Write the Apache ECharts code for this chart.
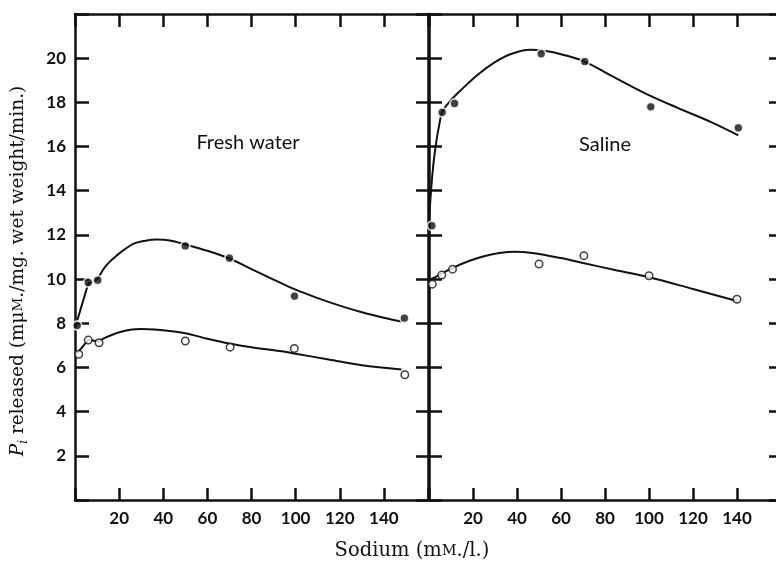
<!DOCTYPE html>
<html>
<head>
<meta charset="utf-8">
<script src="https://cdn.jsdelivr.net/npm/echarts@6/dist/echarts.min.js"></script>
<style>
html,body{margin:0;padding:0;background:#fff;}
#chart{width:776px;height:562px;}
</style>
</head>
<body>
<div id="chart"></div>
<script>
// ---- data ----
const xTickLabels = [20, 40, 60, 80, 100, 120, 140];
const yTickLabels = [2, 4, 6, 8, 10, 12, 14, 16, 18, 20];

// Fresh water
const freshFilledPoints = [[1,7.9],[6,9.85],[10.3,9.95],[50,11.5],[70,10.95],[99.5,9.23],[149.3,8.23]];
const freshOpenPoints = [[1.7,6.6],[6,7.24],[10.9,7.12],[50,7.2],[70.3,6.92],[99.4,6.86],[149.5,5.67]];
const freshFilledStart = [[0.5,7.95],[6,9.8],[10.3,10.0]];
const freshFilledCurve = [[10.3,10.0],[14,10.6],[18.8,11.06],[26.4,11.59],[32,11.74],[37,11.79],[43,11.75],[50,11.57],[60,11.28],[70,10.93],[80,10.45],[90,9.98],[100,9.52],[110,9.14],[120,8.8],[130,8.5],[140,8.25],[148,8.08]];
const freshOpenStart = [[0.8,6.62],[6,7.25],[10.9,7.18]];
const freshOpenCurve = [[10.9,7.18],[14,7.36],[19,7.56],[25,7.71],[30,7.74],[36,7.72],[42,7.66],[50,7.55],[60,7.3],[70,7.08],[80,6.91],[92.8,6.74],[100,6.62],[115,6.36],[130,6.1],[148,5.91]];

// Saline
const salineFilledPoints = [[1.3,12.42],[6,17.55],[11.6,17.95],[51,20.2],[70.8,19.85],[100.8,17.8],[140.6,16.85]];
const salineOpenPoints = [[1.5,9.77],[5.8,10.18],[10.7,10.45],[50,10.68],[70.4,11.06],[100,10.15],[140,9.09]];
const salineFilledCurve = [[0,12.6],[1,14.1],[2,15.2],[3,16],[4.5,16.9],[6.2,17.6],[10,18.1],[15,18.6],[22,19.24],[30,19.82],[37,20.18],[46,20.38],[53,20.32],[60,20.18],[70,19.88],[83,19.2],[98,18.42],[113,17.75],[128,17.12],[140.6,16.51]];
const salineOpenCurve = [[0,9.95],[5,10.2],[10.5,10.5],[18.5,10.83],[25,11.03],[32,11.18],[39,11.24],[47,11.18],[60,10.95],[70,10.73],[85,10.4],[100,10.08],[120,9.55],[140,9.01]];

// ---- chart ----
const INK = '#111';
const sans = 'Lato';
const serif = 'DejaVu Serif';

function xAxisDef(grid, pos) {
  return {
    type: 'value', gridIndex: grid, position: pos, min: 0, max: 160, interval: 20,
    axisLine: { show: true, onZero: false, lineStyle: { color: INK, width: 2.5 } },
    axisTick: { show: true, inside: true, length: pos === 'top' ? 13 : 12, lineStyle: { color: INK, width: 2.5 } },
    axisLabel: pos === 'top' ? { show: false } : {
      show: true, margin: 10, color: INK, fontFamily: sans, fontWeight: 'bold', fontSize: 17,
      formatter: v => xTickLabels.indexOf(v) >= 0 ? String(v) : ''
    },
    splitLine: { show: false }
  };
}
function yAxisDef(grid, pos, tickLen, labels) {
  return {
    type: 'value', gridIndex: grid, position: pos, min: 0, max: 22, interval: 2,
    axisLine: { show: true, onZero: false, lineStyle: { color: INK, width: 2.5 } },
    axisTick: { show: true, inside: true, length: tickLen, lineStyle: { color: INK, width: 2.5 } },
    axisLabel: labels ? {
      show: true, margin: 9, color: INK, fontFamily: sans, fontWeight: 'bold', fontSize: 17,
      formatter: v => yTickLabels.indexOf(v) >= 0 ? String(v) : ''
    } : { show: false },
    splitLine: { show: false }
  };
}

function curve(data, xi, yi, smooth) {
  return {
    type: 'line', xAxisIndex: xi, yAxisIndex: yi, data: data, smooth: smooth ? 0.35 : false,
    showSymbol: false, symbol: 'none', lineStyle: { color: INK, width: 2 }, z: 2, silent: true, animation: false
  };
}
function dots(data, xi, yi, filled) {
  return {
    type: 'scatter', xAxisIndex: xi, yAxisIndex: yi, data: data, symbol: 'circle',
    symbolSize: filled ? 9 : 7.5,
    itemStyle: filled ? { color: INK, borderColor: '#fff', borderWidth: 1.8 } : { color: '#fff', borderColor: INK, borderWidth: 1.5 },
    z: 5, silent: true, animation: false
  };
}

const chart = echarts.init(document.getElementById('chart'), null, { renderer: 'canvas' });
chart.setOption({
  backgroundColor: '#fff',
  animation: false,
  grid: [
    { left: 75, top: 14, width: 353, height: 486, outerBoundsMode: 'none', containLabel: false },
    { left: 429, top: 14, width: 352, height: 486, outerBoundsMode: 'none', containLabel: false }
  ],
  xAxis: [xAxisDef(0, 'bottom'), xAxisDef(0, 'top'), xAxisDef(1, 'bottom'), xAxisDef(1, 'top')],
  yAxis: [yAxisDef(0, 'left', 14, true), yAxisDef(0, 'right', 12, false), yAxisDef(1, 'left', 13, false), yAxisDef(1, 'right', 12, false)],
  series: [
    curve(freshFilledStart, 0, 0, false),
    curve(freshFilledCurve, 0, 0, true),
    curve(freshOpenStart, 0, 0, false),
    curve(freshOpenCurve, 0, 0, true),
    curve(salineFilledCurve, 2, 2, true),
    curve(salineOpenCurve, 2, 2, true),
    dots(freshFilledPoints, 0, 0, true),
    dots(freshOpenPoints, 0, 0, false),
    dots(salineFilledPoints, 2, 2, true),
    dots(salineOpenPoints, 2, 2, false)
  ],
  graphic: [
    { type: 'text', x: 248, y: 143, style: { text: 'Fresh water', align: 'center', verticalAlign: 'middle', fontFamily: sans, fontSize: 20, fontWeight: 'normal', fill: INK } },
    { type: 'text', x: 605, y: 145, style: { text: 'Saline', align: 'center', verticalAlign: 'middle', fontFamily: sans, fontSize: 20, fontWeight: 'normal', fill: INK } },
    { type: 'text', x: 412, y: 551, style: {
        text: '{n|Sodium (m}{sc|M}{n|./l.)}', align: 'center', verticalAlign: 'middle', fill: INK,
        rich: { n: { fontFamily: serif, fontSize: 19.5, fill: INK }, sc: { fontFamily: serif, fontSize: 14.5, fill: INK } }
      } },
    { type: 'text', x: 18, y: 271, rotation: Math.PI / 2, style: {
        text: '{p|P}{s|i}{n| released (mμ}{sc|M}{n|./mg. wet weight/min.)}', align: 'center', verticalAlign: 'middle', fill: INK,
        rich: {
          p: { fontFamily: serif, fontSize: 18.5, fontStyle: 'italic', fill: INK, lineHeight: 24 },
          s: { fontFamily: serif, fontSize: 12, fontStyle: 'italic', fill: INK, verticalAlign: 'bottom', lineHeight: 13 },
          n: { fontFamily: serif, fontSize: 18.5, fill: INK, lineHeight: 24 },
          sc: { fontFamily: serif, fontSize: 13.5, fill: INK, lineHeight: 24 }
        }
      } }
  ]
});
</script>
</body>
</html>
